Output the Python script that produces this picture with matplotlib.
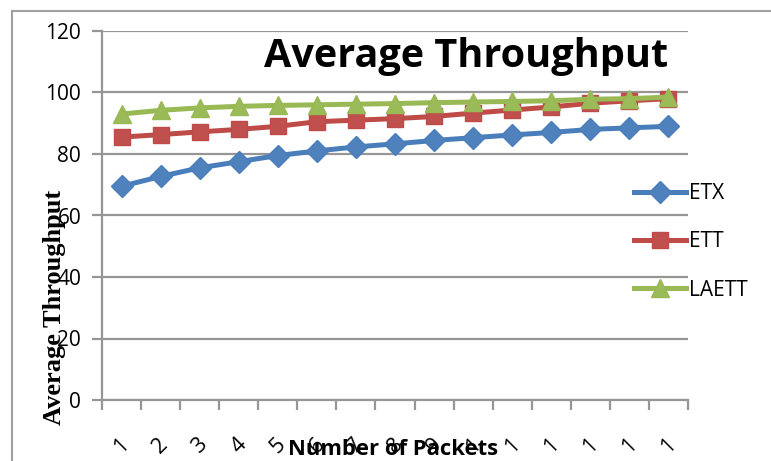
import matplotlib
matplotlib.use("Agg")
import matplotlib.pyplot as plt
from matplotlib.lines import Line2D
import numpy as np

categories = list(range(1, 16))
tick_labels = ['1', '2', '3', '4', '5', '6', '7', '8', '9', '1', '1', '1', '1', '1', '1']
etx = [69.5, 72.7, 75.5, 77.5, 79.5, 81.0, 82.3, 83.3, 84.4, 85.3, 86.2, 87.0, 88.0, 88.5, 89.0]
ett = [85.5, 86.3, 87.2, 88.0, 89.0, 90.5, 91.0, 91.5, 92.2, 93.3, 94.3, 95.3, 96.5, 97.3, 98.0]
laett = [93.0, 94.2, 95.0, 95.5, 95.8, 96.0, 96.2, 96.4, 96.7, 96.9, 97.1, 97.3, 97.8, 98.0, 98.5]
yticks = [0, 20, 40, 60, 80, 100, 120]

W, H = 771, 461
fig = plt.figure(figsize=(W / 100, H / 100), dpi=100)
ax = fig.add_axes([102 / W, (H - 400) / H, (688 - 102) / W, (400 - 31) / H])

sans = ['Open Sans', 'DejaVu Sans']
grid_c = '#969696'

x = np.array(categories)
lw = 3.6
ax.plot(x, etx, color='#4A7EBB', lw=lw, marker='D', ms=11, mec='#4A7EBB', mfc='#4F81BD', zorder=3, label='ETX')
ax.plot(x, ett, color='#BE4B48', lw=lw, marker='s', ms=12, mec='#BE4B48', mfc='#C0504D', zorder=4, label='ETT')
ax.plot(x, laett, color='#98B954', lw=lw, marker='^', ms=13.5, mec='#98B954', mfc='#9BBB59', zorder=5, label='LAETT')

ax.set_xlim(0.5, 15.5)
ax.set_ylim(0, 120)
ax.set_yticks(yticks)
ax.set_yticklabels([str(v) for v in yticks], fontsize=15, family=sans)
ax.yaxis.grid(True, color=grid_c, lw=1.6)
ax.set_axisbelow(True)

ax.set_xticks(np.arange(0.5, 16.0, 1.0))
ax.set_xticklabels([])
ax.set_xticks(x, minor=True)
ax.set_xticklabels(tick_labels, minor=True, rotation=45, fontsize=15.5, family=sans,
                   ha='center', va='center')
ax.tick_params(axis='x', which='minor', length=0, pad=33)
ax.tick_params(axis='x', which='major', length=7, width=1.6, color=grid_c, direction='out')
ax.tick_params(axis='y', length=7, width=1.6, color=grid_c, direction='out', pad=8)

for s in ['top', 'right']:
    ax.spines[s].set_visible(False)
for s in ['left', 'bottom']:
    ax.spines[s].set_color(grid_c)
    ax.spines[s].set_linewidth(1.6)

fig.text(466 / W, 1 - 56 / H, 'Average Throughput', fontsize=28.5, fontweight='bold',
         family=sans, ha='center', va='center')
fig.text(393 / W, 1 - 449 / H, 'Number of Packets', fontsize=15.8, fontweight='bold',
         family=sans, ha='center', va='center')
fig.text(55 / W, 1 - 307 / H, 'Average Throughput', fontsize=19, fontweight='bold',
         family=['Liberation Serif', 'DejaVu Serif'], rotation=90, ha='center', va='center')

leg = ax.legend(loc='upper left', bbox_to_anchor=(626 / W, 1 - 175 / H), bbox_transform=fig.transFigure,
                frameon=False, prop={'family': sans, 'size': 15},
                handlelength=2.5, handletextpad=0.12, labelspacing=1.3, borderaxespad=0)

# outer chart frame
fig.add_artist(Line2D([12 / W, 12 / W], [1 - 11 / H, 0], color='#A0A0A0', lw=1.5))
fig.add_artist(Line2D([12 / W, 1], [1 - 11 / H, 1 - 11 / H], color='#A0A0A0', lw=1.5))

fig.savefig('out.png', dpi=100)
